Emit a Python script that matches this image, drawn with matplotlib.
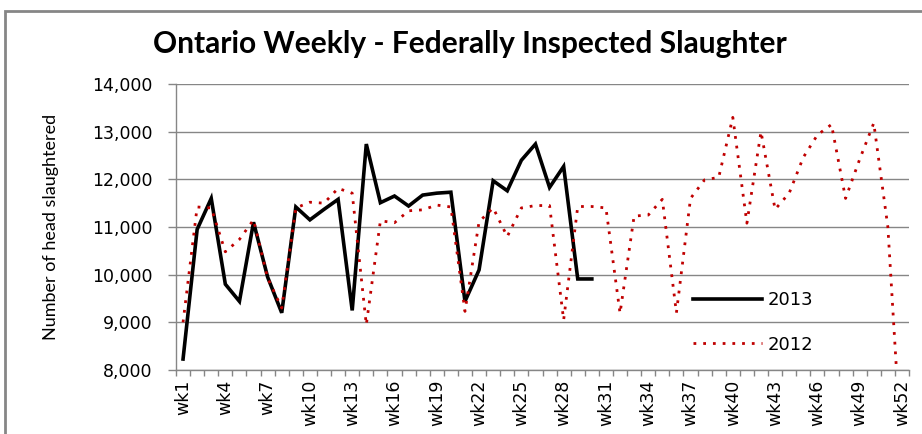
import numpy as np
import matplotlib
matplotlib.use('Agg')
import matplotlib.pyplot as plt
from matplotlib.patches import Rectangle

# weekly head counts
weeks_2013 = list(range(1, 31))
head_2013 = [8230, 10950, 11600, 9800, 9440, 11100, 9950, 9200, 11420, 11150,
             11370, 11580, 9250, 12740, 11510, 11650, 11440, 11670, 11710, 11730,
             9440, 10100, 11970, 11760, 12400, 12740, 11830, 12270, 9910, 9910]

weeks_2012 = list(range(1, 53))
head_2012 = [9000, 11420, 11400, 10480, 10740, 11150, 9930, 9300, 11400, 11520,
             11500, 11810, 11710, 8950, 11130, 11090, 11340, 11360, 11460, 11420,
             9230, 11110, 11400, 10800, 11400, 11450, 11450, 9050, 11430, 11430,
             11400, 9190, 11230, 11250, 11580, 9200, 11600, 11990, 12040, 13300,
             11080, 13000, 11370, 11710, 12460, 12930, 13150, 11600, 12420, 13180,
             11000, 6100]

label_weeks = list(range(1, 53, 3))
week_labels = ['wk%d' % w for w in label_weeks]
y_ticks = [8000, 9000, 10000, 11000, 12000, 13000, 14000]

W, H = 922, 434
fig = plt.figure(figsize=(W / 100, H / 100), dpi=100)
fig.patch.set_facecolor('white')
ax = fig.add_axes([176 / W, 1 - 370 / H, 733 / W, 286 / H])

grey = '#868686'
ax.plot(weeks_2013, head_2013, color='black', lw=2.6, label='2013', zorder=3,
        solid_joinstyle='miter')
ax.plot(weeks_2012, head_2012, color='#c00000', lw=2.0, linestyle=(0, (1, 2.5)),
        dash_capstyle='butt', label='2012', zorder=4)

ax.set_xlim(0.5, 52.5)
ax.set_ylim(8000, 14000)
ax.set_yticks(y_ticks)
ax.set_yticklabels(['{:,}'.format(v) for v in y_ticks], fontsize=12.5,
                   family='DejaVu Sans', color='black')
ax.set_xticks(label_weeks)
ax.set_xticklabels(week_labels, rotation=90, fontsize=12.5, family='DejaVu Sans',
                   va='top', ha='center')
ax.set_xticks(np.arange(0.5, 53, 1.0), minor=True)
ax.tick_params(axis='x', which='major', length=0, pad=7)
ax.tick_params(axis='x', which='minor', length=4, color=grey, width=1, direction='out')
ax.tick_params(axis='y', length=6, color=grey, width=1, pad=11)

ax.grid(axis='y', color=grey, lw=1)
ax.set_axisbelow(True)
for s in ['top', 'right']:
    ax.spines[s].set_visible(False)
for s in ['left', 'bottom']:
    ax.spines[s].set_color(grey)
    ax.spines[s].set_linewidth(1)

ax.set_ylabel('Number of head slaughtered', fontsize=13, family='Lato', labelpad=0)
ax.yaxis.set_label_coords(-(176 - 59) / 733, 0.5)

fig.text(470 / W, 1 - 44 / H, 'Ontario Weekly - Federally Inspected Slaughter',
         ha='center', va='center', fontsize=21.5, fontweight='bold', family='Lato')

ax.legend(loc='center left', bbox_to_anchor=((693 - 176) / 733, (370 - 322.5) / 286),
          frameon=False, handlelength=3.8, handletextpad=0.35,
          labelspacing=1.45, borderpad=0, borderaxespad=0,
          prop={'family': 'DejaVu Sans', 'size': 13})

fig.add_artist(Rectangle((5 / W, -0.1), 1.2, 1 - 11 / H + 0.1, transform=fig.transFigure,
                         fill=False, edgecolor=grey, lw=2, clip_on=False))

fig.savefig('out.png', dpi=100)
